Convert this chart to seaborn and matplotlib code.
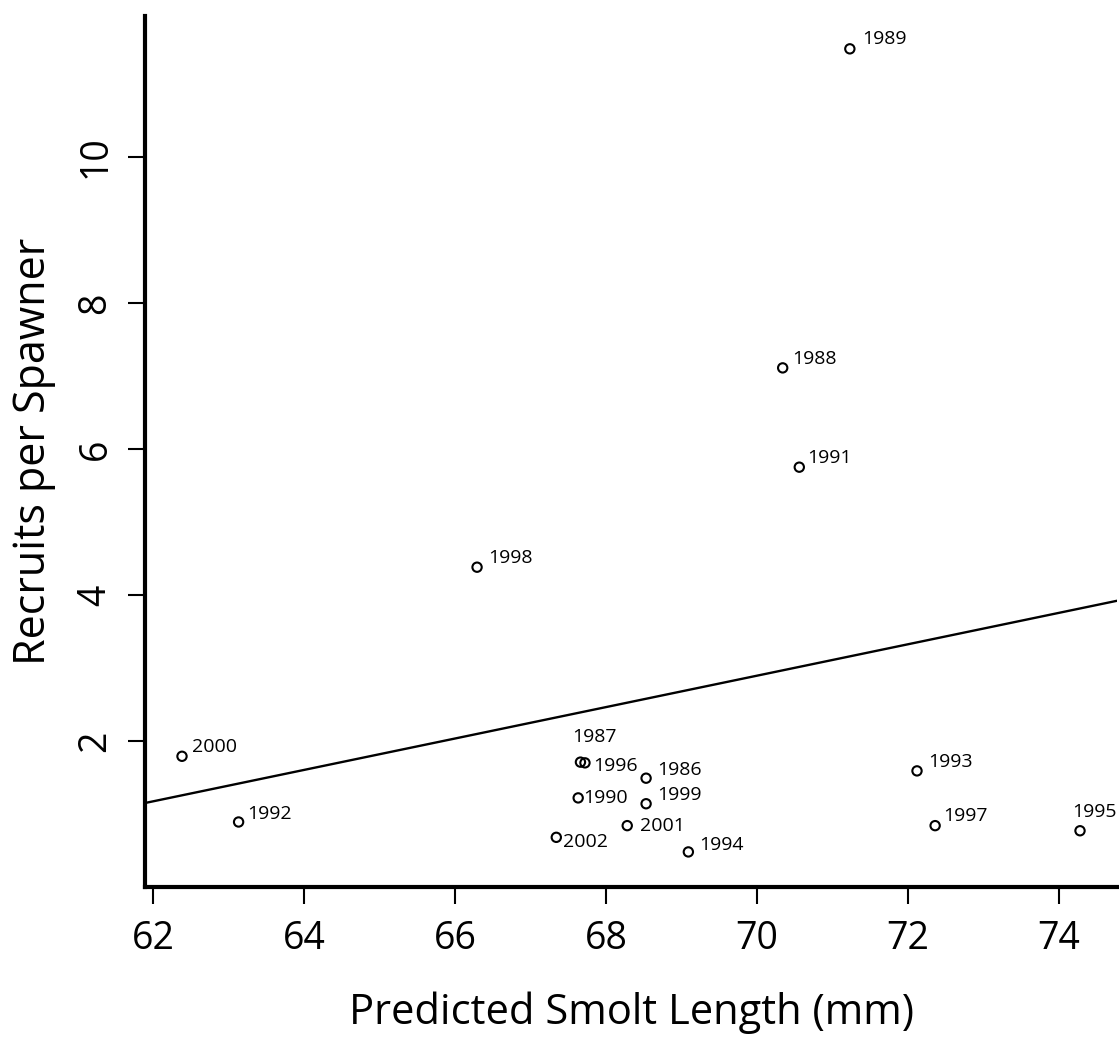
import matplotlib
matplotlib.use('Agg')
import matplotlib.pyplot as plt
import seaborn as sns
import pandas as pd

# Values
years = ['1986', '1987', '1988', '1989', '1990', '1991', '1992', '1993', '1994',
         '1995', '1996', '1997', '1998', '1999', '2000', '2001', '2002']
smolt_length = [68.53, 67.66, 70.34, 71.23, 67.63, 70.56, 63.13, 72.12, 69.09,
                74.28, 67.72, 72.36, 66.29, 68.53, 62.38, 68.28, 67.34]
recruits = [1.49, 1.71, 7.11, 11.48, 1.22, 5.75, 0.89, 1.59, 0.48,
            0.77, 1.70, 0.84, 4.38, 1.14, 1.79, 0.84, 0.68]

# fitted line (end points at the plot edges)
fit_x = [61.89, 74.77]
fit_y = [1.15, 3.92]

x_ticks = [62, 64, 66, 68, 70, 72, 74]
y_ticks = [2, 4, 6, 8, 10]

df = pd.DataFrame({'year': years, 'length': smolt_length, 'rps': recruits})

sns.set_theme(style='white')
plt.rcParams['font.family'] = ['Open Sans', 'DejaVu Sans']
plt.rcParams['text.color'] = 'black'
plt.rcParams['axes.labelcolor'] = 'black'
plt.rcParams['xtick.color'] = 'black'
plt.rcParams['ytick.color'] = 'black'

fig = plt.figure(figsize=(11.19, 10.38), dpi=100)
ax = fig.add_axes([0.1296, 0.1455, 0.8686, 0.8391])

sns.scatterplot(data=df, x='length', y='rps', ax=ax, s=45, marker='o',
                facecolor='none', edgecolor='black', linewidth=1.5, zorder=3)
sns.lineplot(x=fit_x, y=fit_y, ax=ax, color='black', linewidth=1.7)

# label offsets in pixels (dx, dy), most labels sit up and to the right
label_offsets = {
    '1986': (11, 8), '1987': (-8, 25), '1988': (10, 9), '1989': (12, 10),
    '1990': (5, 0), '1991': (8, 9), '1992': (9, 8), '1993': (11, 9),
    '1994': (11, 7), '1995': (-8, 19), '1996': (8, -3), '1997': (8, 10),
    '1998': (11, 9), '1999': (11, 9), '2000': (10, 9), '2001': (13, 0),
    '2002': (7, -5),
}
for yr, xv, yv in zip(years, smolt_length, recruits):
    ax.annotate(yr, (xv, yv), xytext=label_offsets[yr], textcoords='offset pixels',
                ha='left', va='center', fontsize=14, color='black')

ax.set_xlim(61.89, 74.77)
ax.set_ylim(0.0, 11.93)
ax.set_xticks(x_ticks)
ax.set_yticks(y_ticks)

sns.despine(ax=ax)
for side in ['left', 'bottom']:
    ax.spines[side].set_linewidth(3)
    ax.spines[side].set_color('black')

ax.tick_params(axis='both', which='major', direction='out', length=12, width=1.5,
               color='black', labelcolor='black', labelsize=27, bottom=True, left=True)
ax.tick_params(axis='x', pad=12)
ax.tick_params(axis='y', pad=10)
plt.setp(ax.get_yticklabels(), rotation=90, va='center')

ax.set_xlabel('Predicted Smolt Length (mm)', fontsize=30, labelpad=24, color='black')
ax.set_ylabel('Recruits per Spawner', fontsize=31, labelpad=15, color='black')

plt.savefig('out.png', dpi=100)
plt.close()
